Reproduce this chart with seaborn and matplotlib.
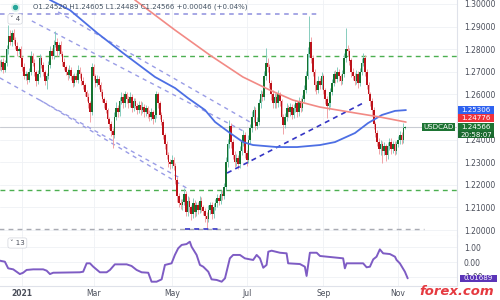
import matplotlib
matplotlib.use("Agg")
import matplotlib.pyplot as plt
import matplotlib.transforms as mtransforms
from matplotlib.patches import Rectangle
import numpy as np
import pandas as pd
import seaborn as sns

# USDCAD daily closes, 14 Dec 2020 - 5 Nov 2021
closes = [
    1.2735, 1.2720, 1.2745, 1.2710, 1.2740, 1.2800, 1.2860, 1.2830, 1.2870, 1.2840,
    1.2815, 1.2790, 1.2800, 1.2760, 1.2720, 1.2680, 1.2690, 1.2665, 1.2700, 1.2770,
    1.2740, 1.2700, 1.2660, 1.2690, 1.2760, 1.2730, 1.2700, 1.2660, 1.2680, 1.2730,
    1.2790, 1.2770, 1.2820, 1.2830, 1.2790, 1.2820, 1.2780, 1.2745, 1.2720, 1.2700,
    1.2685, 1.2710, 1.2680, 1.2650, 1.2680, 1.2665, 1.2710, 1.2690, 1.2660, 1.2640,
    1.2610, 1.2590, 1.2560, 1.2520, 1.2720, 1.2680, 1.2650, 1.2670, 1.2640, 1.2610,
    1.2580, 1.2560, 1.2530, 1.2490, 1.2470, 1.2440, 1.2420, 1.2500, 1.2540, 1.2520,
    1.2570, 1.2590, 1.2560, 1.2600, 1.2580, 1.2560, 1.2590, 1.2540, 1.2570, 1.2550,
    1.2530, 1.2555, 1.2530, 1.2545, 1.2520, 1.2540, 1.2515, 1.2500, 1.2520, 1.2490,
    1.2510, 1.2600, 1.2560, 1.2510, 1.2480, 1.2420, 1.2380, 1.2330, 1.2300, 1.2290,
    1.2310, 1.2285, 1.2220, 1.2150, 1.2120, 1.2110, 1.2125, 1.2160, 1.2080, 1.2130,
    1.2100, 1.2070, 1.2120, 1.2080, 1.2110, 1.2090, 1.2130, 1.2100, 1.2085, 1.2060,
    1.2050, 1.2090, 1.2110, 1.2070, 1.2100, 1.2120, 1.2140, 1.2130, 1.2160, 1.2150,
    1.2190, 1.2300, 1.2380, 1.2460, 1.2390, 1.2330, 1.2300, 1.2320, 1.2290, 1.2350,
    1.2390, 1.2420, 1.2340, 1.2310, 1.2400, 1.2450, 1.2500, 1.2530, 1.2460, 1.2480,
    1.2560, 1.2600, 1.2590, 1.2680, 1.2740, 1.2720, 1.2650, 1.2600, 1.2560, 1.2590,
    1.2560, 1.2600, 1.2570, 1.2500, 1.2465, 1.2500, 1.2540, 1.2520, 1.2545, 1.2510,
    1.2540, 1.2560, 1.2520, 1.2570, 1.2540, 1.2580, 1.2620, 1.2680, 1.2780, 1.2830,
    1.2760, 1.2700, 1.2640, 1.2620, 1.2660, 1.2640, 1.2680, 1.2620, 1.2580, 1.2550,
    1.2560, 1.2610, 1.2650, 1.2690, 1.2670, 1.2700, 1.2680, 1.2660, 1.2690, 1.2760,
    1.2800, 1.2790, 1.2750, 1.2700, 1.2680, 1.2660, 1.2690, 1.2650, 1.2700, 1.2740,
    1.2760, 1.2700, 1.2640, 1.2600, 1.2570, 1.2530, 1.2470, 1.2430, 1.2390, 1.2360,
    1.2380, 1.2350, 1.2370, 1.2330, 1.2370, 1.2390, 1.2360, 1.2380, 1.2350, 1.2380,
    1.2400, 1.2420, 1.2400, 1.2452, 1.24566,
]
first_open = 1.2740

# wick lengths in pips above / below the body
wick_up = [
    12, 15, 10, 18, 14, 20, 45, 25, 15, 20,
    12, 18, 10, 15, 12, 20, 14, 10, 16, 22,
    12, 15, 10, 18, 20, 12, 15, 10, 14, 18,
    22, 15, 20, 50, 18, 12, 15, 10, 14, 12,
    15, 18, 10, 12, 16, 14, 20, 12, 10, 15,
    12, 10, 14, 12, 20, 15, 12, 18, 10, 14,
    12, 10, 15, 12, 10, 14, 12, 20, 25, 15,
    18, 20, 14, 15, 10, 15, 20, 12, 16, 14,
    12, 18, 15, 20, 12, 15, 10, 14, 18, 12,
    16, 15, 12, 10, 14, 12, 10, 12, 15, 12,
    20, 12, 10, 15, 12, 18, 14, 25, 12, 20,
    15, 12, 22, 14, 16, 12, 20, 15, 10, 12,
    18, 20, 16, 12, 18, 15, 20, 14, 18, 15,
    20, 25, 22, 27, 15, 12, 18, 15, 12, 20,
    18, 22, 15, 12, 20, 18, 25, 20, 15, 18,
    20, 18, 15, 22, 65, 20, 15, 12, 18, 14,
    16, 20, 12, 10, 15, 18, 20, 14, 16, 12,
    18, 15, 12, 20, 14, 18, 20, 25, 30, 119,
    25, 15, 12, 18, 20, 14, 18, 12, 10, 15,
    14, 18, 20, 15, 18, 20, 14, 12, 18, 22,
    96, 20, 15, 12, 18, 14, 20, 12, 18, 20,
    25, 15, 12, 14, 10, 12, 14, 10, 12, 15,
    20, 15, 18, 12, 20, 15, 18, 14, 12, 16,
    18, 20, 15, 22, 4,
]
wick_dn = [
    15, 12, 18, 14, 10, 15, 20, 12, 18, 15,
    14, 20, 12, 16, 15, 12, 18, 20, 10, 14,
    15, 18, 22, 12, 15, 14, 18, 20, 35, 12,
    15, 12, 14, 10, 18, 15, 12, 20, 14, 16,
    20, 12, 15, 18, 14, 12, 15, 18, 20, 14,
    15, 18, 20, 40, 12, 15, 18, 12, 14, 16,
    15, 20, 14, 18, 22, 25, 55, 15, 12, 18,
    14, 12, 20, 15, 18, 20, 14, 18, 15, 12,
    18, 14, 20, 12, 18, 15, 20, 18, 14, 20,
    12, 15, 18, 20, 15, 18, 20, 15, 22, 18,
    14, 20, 18, 25, 20, 18, 22, 15, 20, 18,
    20, 25, 15, 22, 18, 20, 15, 22, 18, 25,
    43, 15, 20, 22, 15, 12, 18, 20, 14, 18,
    15, 12, 20, 15, 25, 18, 20, 15, 22, 14,
    18, 20, 22, 25, 14, 18, 15, 20, 18, 14,
    15, 18, 20, 14, 15, 22, 20, 25, 18, 20,
    22, 15, 20, 25, 40, 15, 18, 20, 14, 18,
    15, 18, 20, 14, 18, 15, 12, 14, 10, 15,
    20, 18, 25, 20, 15, 18, 14, 20, 22, 56,
    18, 15, 14, 12, 18, 15, 20, 18, 15, 12,
    15, 18, 20, 22, 18, 20, 15, 22, 12, 15,
    14, 20, 18, 22, 20, 25, 22, 18, 20, 25,
    30, 54, 20, 25, 18, 15, 22, 18, 20, 15,
    14, 18, 20, 15, 3,
]

# moving averages (bar index, price)
blue_ma_idx = [29.9, 41.4, 57.0, 71.9, 90.3, 101.8, 109.2, 119.0, 124.8, 133.4, 140.9,
               146.6, 160.4, 171.9, 185.1, 193.7, 205.2, 212.7, 220.7, 228.2, 234.5]
blue_ma_val = [1.3018, 1.2973, 1.2872, 1.2783, 1.2677, 1.2628, 1.2584, 1.2531, 1.2478, 1.2429,
               1.2389, 1.2376, 1.2367, 1.2367, 1.2376, 1.2389, 1.2429, 1.2473, 1.2509, 1.2527,
               1.25306]
red_ma_idx = [78.7, 101.7, 121.8, 140.8, 156.3, 169.5, 185.0, 205.2, 219.5, 234.5]
red_ma_val = [1.3018, 1.2885, 1.2774, 1.2677, 1.2619, 1.2575, 1.2544, 1.2518, 1.2500, 1.24776]

# drawn trendlines (start bar, start price, end bar, end price)
channel_lines = [
    (34.6, 1.2965, 144.8, 1.2478),
    (19.5, 1.2925, 142.0, 1.2434),
    (1.1, 1.2673, 104.6, 1.2230),
    (24.1, 1.2575, 110.3, 1.2177),
]
rising_line = (131.7, 1.2252, 211.0, 1.2566)
floor_line = (107.5, 1.2004, 127.6, 1.2004)

# horizontal levels
top_level = 1.2956
green_levels = [1.2770, 1.2177]
grey_level = 1.2004
last_price = 1.24566

# lower indicator (bar index, value)
osc_idx = [1.1, 4.0, 5.9, 8.8, 10.7, 12.6, 14.5, 16.5, 20.3, 26.0,
           28.0, 29.9, 31.8, 47.1, 49.0, 51.0, 52.9, 54.8, 58.6, 62.5,
           64.4, 67.2, 74.0, 76.8, 79.7, 82.6, 86.4, 88.3, 91.2, 94.1,
           96.0, 99.8, 101.7, 103.6, 105.6, 108.4, 110.3, 111.3, 114.2, 116.1,
           118.0, 120.9, 122.8, 125.7, 128.6, 130.5, 133.3, 135.2, 139.1, 141.9,
           144.8, 146.7, 148.7, 150.6, 152.5, 154.4, 155.4, 157.3, 162.1, 165.9,
           166.8, 173.6, 176.4, 177.4, 179.3, 183.2, 185.1, 198.4, 199.4, 200.4,
           209.9, 211.9, 213.8, 215.7, 217.6, 219.5, 221.4, 225.3, 228.2, 229.1,
           231.0, 233.9, 235.5]
osc_val = [0.09, 0.02, -0.43, -0.50, -0.66, -0.82, -0.73, -0.54, -0.50, -0.50,
           -0.59, -0.82, -0.73, -0.70, -0.66, -0.09, -0.09, -0.32, -0.70, -0.70,
           -0.54, -0.16, -0.16, -0.27, -0.54, -0.70, -0.73, -1.34, -1.34, -1.18,
           -0.20, -0.09, 0.48, 0.93, 1.16, 1.22, 1.38, 1.04, 0.48, -0.20,
           -0.32, -0.66, -1.18, -1.22, -1.34, -1.11, 0.25, 0.48, 0.48, 0.25,
           0.18, 0.14, 0.48, 0.25, -0.39, -0.20, 0.70, 0.77, 0.63, 0.59,
           -0.09, -0.14, -0.32, -0.95, 0.63, 0.63, 0.41, 0.25, -0.43, -0.09,
           -0.09, -0.36, -0.32, 0.18, 0.36, 0.86, 0.59, 0.54, 0.36, 0.14,
           -0.09, -0.66, -1.11]

month_starts = ["2021-01-01", "2021-03-01", "2021-05-01", "2021-07-01", "2021-09-01", "2021-11-01"]
month_labels = ["2021", "Mar", "May", "Jul", "Sep", "Nov"]

header = "O1.24520 H1.24605 L1.24489 C1.24566 +0.00046 (+0.04%)"

sns.set_style("white")
plt.rcParams["font.family"] = ["DejaVu Sans"]

dates = pd.bdate_range("2020-12-14", "2021-11-05")
n = len(closes)
assert len(dates) == n == len(wick_up) == len(wick_dn), (len(dates), n, len(wick_up), len(wick_dn))
assert len(osc_idx) == len(osc_val)

c = np.array(closes)
o = np.concatenate([[first_open], c[:-1]])
h = np.maximum(o, c) + np.array(wick_up) * 1e-4
l = np.minimum(o, c) - np.array(wick_dn) * 1e-4
x = np.arange(n)
up = c >= o

fig = plt.figure(figsize=(5, 3), dpi=100)
ax = fig.add_axes([0, 1 - 236 / 300, 457 / 500, 236 / 300])
ax2 = fig.add_axes([0, 1 - 286 / 300, 457 / 500, 50 / 300], sharex=ax)

grid_c = "#eff1f5"
line_c = "#dfe2ea"
text_c = "#4a4e5a"

# grid
yticks = np.round(np.arange(1.20, 1.3001, 0.01), 2)
tick_pos = [int(np.searchsorted(dates, pd.Timestamp(d))) for d in month_starts]
for t in yticks:
    ax.axhline(t, color=grid_c, lw=0.6, zorder=0)
for tp in tick_pos:
    ax.axvline(tp, color=grid_c, lw=0.6, zorder=0)
    ax2.axvline(tp, color=grid_c, lw=0.6, zorder=0)
for t in [1, 0, -1]:
    ax2.axhline(t, color=grid_c, lw=0.6, zorder=0)

# levels
ax.hlines(top_level, 1.2, 185, color="#8e90de", lw=1.1, ls=(0, (3, 3)), zorder=2)
for g in green_levels:
    ax.axhline(g, color="#4caf50", lw=1.0, ls=(0, (3.5, 3)), zorder=2)
ax.hlines(grey_level, 0, 245, color="#a9abb3", lw=1.0, ls=(0, (3.5, 3)), zorder=2)
ax.axhline(last_price, color="#c9ccd3", lw=0.8, zorder=1)

for x0, y0, x1, y1 in channel_lines:
    ax.plot([x0, x1], [y0, y1], color="#9a9de6", lw=1.0, ls=(0, (3, 3)), zorder=2)
ax.plot(rising_line[::2], rising_line[1::2], color="#3535c4", lw=1.2, ls=(0, (3, 2.5)), zorder=5)
ax.plot(floor_line[::2], floor_line[1::2], color="#3535c4", lw=1.2, ls=(0, (3, 2.5)), zorder=5)

# candles
ax.vlines(x[up], l[up], h[up], color="#7fcab9", lw=0.65, zorder=3)
ax.vlines(x[~up], l[~up], h[~up], color="#f09ca1", lw=0.65, zorder=3)
body = np.maximum(np.abs(c - o), 0.00018)
bot = np.minimum(o, c)
ax.bar(x[up], body[up], bottom=bot[up], width=0.9, color="#157230", lw=0, zorder=4)
ax.bar(x[~up], body[~up], bottom=bot[~up], width=0.9, color="#bd121a", lw=0, zorder=4)

# moving averages
sns.lineplot(x=blue_ma_idx, y=blue_ma_val, ax=ax, color="#4d6fe4", lw=1.3, zorder=6)
sns.lineplot(x=red_ma_idx, y=red_ma_val, ax=ax, color="#f28a85", lw=1.2, zorder=6)

# lower indicator
sns.lineplot(x=osc_idx, y=osc_val, ax=ax2, color="#7e5cc4", lw=1.4, zorder=4)

ax.set_xlim(1.2, 1.2 + 457 / 1.74)
ax.set_ylim(1.30 - 232 / 2260, 1.30 + 4 / 2260)
ax2.set_ylim((262 - 286) / 14.7, (262 - 236) / 14.7)

# axes styling
for a in (ax, ax2):
    a.yaxis.tick_right()
    a.spines["top"].set_visible(False)
    a.spines["left"].set_visible(False)
    a.spines["right"].set_color(line_c)
    a.spines["bottom"].set_color(line_c)
    a.spines["right"].set_linewidth(0.8)
    a.spines["bottom"].set_linewidth(0.8)
    a.tick_params(axis="both", length=0, labelsize=5.5, colors=text_c, pad=5)
    a.set_xlabel("")
    a.set_ylabel("")

ax.set_yticks(yticks)
ax.set_yticklabels(["" if abs(t - 1.25) < 1e-9 else f"{t:.5f}" for t in yticks])
ax.tick_params(axis="x", labelbottom=False)
ax2.set_yticks([1, 0, -1])
ax2.set_yticklabels(["1.00", "0.00", "-1.00"])
ax2.set_xticks(tick_pos)
ax2.set_xticklabels(month_labels)
ax2.tick_params(axis="x", pad=2.5)
ax2.get_xticklabels()[0].set_fontweight("bold")


def price_tag(a, y, text, color, x0, w, hgt):
    tr = mtransforms.blended_transform_factory(a.transAxes, a.transData)
    a.add_patch(Rectangle((x0, y - hgt / 2), w, hgt, transform=tr, fc=color, ec="none",
                          clip_on=False, zorder=10))
    a.text(x0 + w / 2, y, text, transform=tr, ha="center", va="center", fontsize=5.1,
           color="white", zorder=11, clip_on=False)


# price labels on the scale
ph = 7.4 / 2260
price_tag(ax, blue_ma_val[-1], "1.25306", "#2f62f0", 458 / 457, 36 / 457, ph)
price_tag(ax, 1.30 - 114 / 2260, "1.24776", "#f0323c", 458 / 457, 36 / 457, ph)
price_tag(ax, last_price, "1.24566", "#1d7433", 458 / 457, 36 / 457, ph)
price_tag(ax, 1.30 - 130.6 / 2260, "20:58:07", "#1a6a2f", 458 / 457, 36 / 457, 6.8 / 2260)
price_tag(ax, last_price, "USDCAD", "#1d7433", 422 / 457, 33 / 457, ph)
price_tag(ax2, osc_val[-1], "0.01689", "#5b34b8", 460 / 457, 37 / 457, 7.5 / 14.7)

# header and legend toggles
ax.scatter([15 / 457], [1 - 7 / 236], transform=ax.transAxes, s=28, color="#d6efea", zorder=9, clip_on=False)
ax.scatter([15 / 457], [1 - 7 / 236], transform=ax.transAxes, s=8, color="#26a69a", zorder=10, clip_on=False)
ax.text(33 / 457, 1 - 7 / 236, header, transform=ax.transAxes, ha="left", va="center",
        fontsize=5, color="#435262", zorder=10)
ax.text(10 / 457, 1 - 19 / 236, "˅ 4", transform=ax.transAxes, ha="left", va="center", fontsize=5,
        color=text_c, bbox=dict(boxstyle="round,pad=0.3", fc="white", ec="#d1d4dc", lw=0.5), zorder=10)
ax2.text(10 / 457, 1 - 7 / 50, "˅ 13", transform=ax2.transAxes, ha="left", va="center", fontsize=5,
         color=text_c, bbox=dict(boxstyle="round,pad=0.3", fc="white", ec="#d1d4dc", lw=0.5), zorder=10)

fig.text(0.988, 0.027, "forex.com", ha="right", va="center", fontsize=9.5, color="#e53a40",
         style="italic", fontweight="bold")

fig.savefig("out.png", dpi=100)
